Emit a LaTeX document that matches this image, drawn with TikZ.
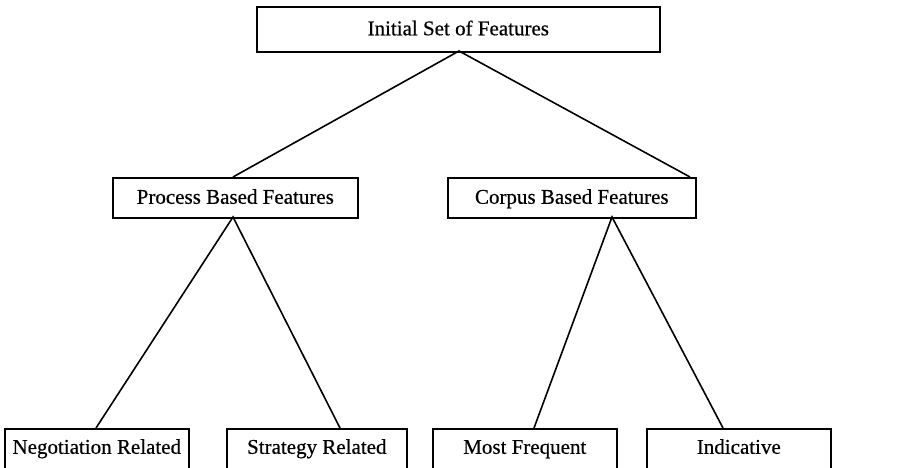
\documentclass[tikz,border=0pt]{standalone}
\usepackage{fontspec}
\setmainfont{Liberation Serif}
\newfontfamily\scanfont{Liberation Serif}[UprightFeatures={FakeBold=0.5}]
\begin{document}
\begin{tikzpicture}[x=1pt,y=-1pt,
  box/.style={draw,line width=1.6pt,inner sep=0pt,anchor=north west,
    text height=15pt,text depth=3pt,font=\fontsize{21}{24}\scanfont},
  leaf/.style={box,minimum height=52pt,text depth=17pt},
  link/.style={line width=1.6pt}]
\useasboundingbox (0,0) rectangle (920,468);
\begin{scope}
\clip (0,0) rectangle (920,468);
% top level
\node[box,minimum width=403pt,minimum height=45pt] (top) at (256,6) {Initial Set of Features};
% second level
\node[box,minimum width=245pt,minimum height=40pt] (pb) at (112,177) {Process Based Features};
\node[box,minimum width=248pt,minimum height=40pt] (cb) at (447,177) {Corpus Based Features};
% leaves (running past the lower edge)
\node[leaf,minimum width=184pt] (nr) at (4,428) {Negotiation Related};
\node[leaf,minimum width=180pt] (sr) at (226,428) {Strategy Related};
\node[leaf,minimum width=184pt] (mf) at (432,428) {Most Frequent};
\node[leaf,minimum width=184pt] (in) at (646,428) {Indicative};
% branch points
\coordinate (apex) at (459,51);
\coordinate (pbtop) at (233,177);
\coordinate (cbtop) at (690,177);
\coordinate (pbbot) at (233,217);
\coordinate (cbbot) at (612,217);
\coordinate (nrtop) at (96,428);
\coordinate (srtop) at (340,428);
\coordinate (mftop) at (534,428);
\coordinate (intop) at (723,428);
% connectors
\draw[link] (pbtop) -- (apex) -- (cbtop);
\draw[link] (nrtop) -- (pbbot) -- (srtop);
\draw[link] (mftop) -- (cbbot) -- (intop);
\end{scope}
\end{tikzpicture}
\end{document}
